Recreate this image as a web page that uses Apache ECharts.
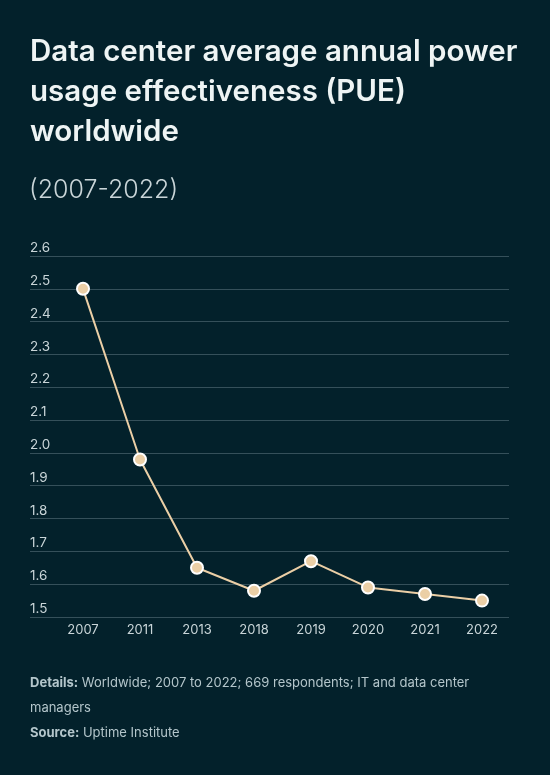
<!DOCTYPE html>
<html>
<head>
<meta charset="utf-8">
<script src="https://cdn.jsdelivr.net/npm/echarts@6/dist/echarts.min.js"></script>
<style>
  html, body { margin: 0; padding: 0; background: #03212b; }
  #chart { width: 550px; height: 775px; }
</style>
</head>
<body>
<div id="chart"></div>
<script>
// Data
const years = ['2007', '2011', '2013', '2018', '2019', '2020', '2021', '2022'];
const pueValues = [2.5, 1.98, 1.65, 1.58, 1.67, 1.59, 1.57, 1.55];

const titleText = 'Data center average annual power\nusage effectiveness (PUE)\nworldwide';
const subtitleText = '(2007-2022)';
const detailsText = 'Worldwide; 2007 to 2022; 669 respondents; IT and data center';
const detailsText2 = 'managers';
const sourceText = 'Uptime Institute';

const font = 'Inter, "Noto Sans", sans-serif';
const chart = echarts.init(document.getElementById('chart'));

const option = {
  backgroundColor: '#03212b',
  animation: false,
  title: [
    {
      text: titleText,
      left: 30,
      top: 32,
      padding: 0,
      textStyle: {
        color: '#eef4f4',
        fontFamily: font,
        fontWeight: 600,
        fontSize: 29.5,
        lineHeight: 40
      }
    },
    {
      text: subtitleText,
      left: 29,
      top: 178,
      padding: 0,
      textStyle: {
        color: '#c9d5d8',
        fontFamily: font,
        fontWeight: 300,
        fontSize: 25
      }
    },
    {
      // footer: details + source
      text: '{b|Details:} ' + detailsText + '\n' + detailsText2 + '\n{b|Source:} ' + sourceText,
      left: 30,
      top: 671,
      padding: 0,
      textStyle: {
        color: '#b4c6cb',
        fontFamily: font,
        fontWeight: 'normal',
        fontSize: 13,
        lineHeight: 25,
        rich: {
          b: { color: '#b4c6cb', fontFamily: font, fontSize: 13, fontWeight: 700, lineHeight: 25 }
        }
      }
    }
  ],
  // grid 0 holds the line, grid 1 is wider and only draws the y labels + gridlines
  grid: [
    { left: 54.5, right: 39.5, top: 256, bottom: 158 },
    { left: 30, right: 41, top: 256, bottom: 158 }
  ],
  xAxis: [
    {
      type: 'category',
      gridIndex: 0,
      data: years,
      boundaryGap: true,
      axisLine: { show: false },
      axisTick: { show: false },
      axisLabel: {
        color: '#c9d5d8',
        fontFamily: font,
        fontSize: 13,
        margin: 7
      }
    },
    {
      type: 'value',
      gridIndex: 1,
      show: false
    }
  ],
  yAxis: [
    {
      type: 'value',
      gridIndex: 0,
      min: 1.5,
      max: 2.6,
      interval: 0.1,
      show: false
    },
    {
      type: 'value',
      gridIndex: 1,
      min: 1.5,
      max: 2.6,
      interval: 0.1,
      axisLine: { show: false },
      axisTick: { show: false },
      splitLine: { show: true, lineStyle: { color: '#35505a', width: 1 } },
      axisLabel: {
        inside: true,
        margin: 0,
        verticalAlign: 'bottom',
        padding: [0, 0, 1, 0],
        color: '#c9d5d8',
        fontFamily: font,
        fontSize: 13.5,
        formatter: v => v.toFixed(1)
      }
    }
  ],
  series: [
    {
      type: 'line',
      xAxisIndex: 0,
      yAxisIndex: 0,
      data: pueValues,
      symbol: 'circle',
      symbolSize: 12,
      lineStyle: { color: '#ebcfa6', width: 2 },
      itemStyle: { color: '#ebcfa6', borderColor: '#ffffff', borderWidth: 2 }
    }
  ]
};

chart.setOption(option);
</script>
</body>
</html>
